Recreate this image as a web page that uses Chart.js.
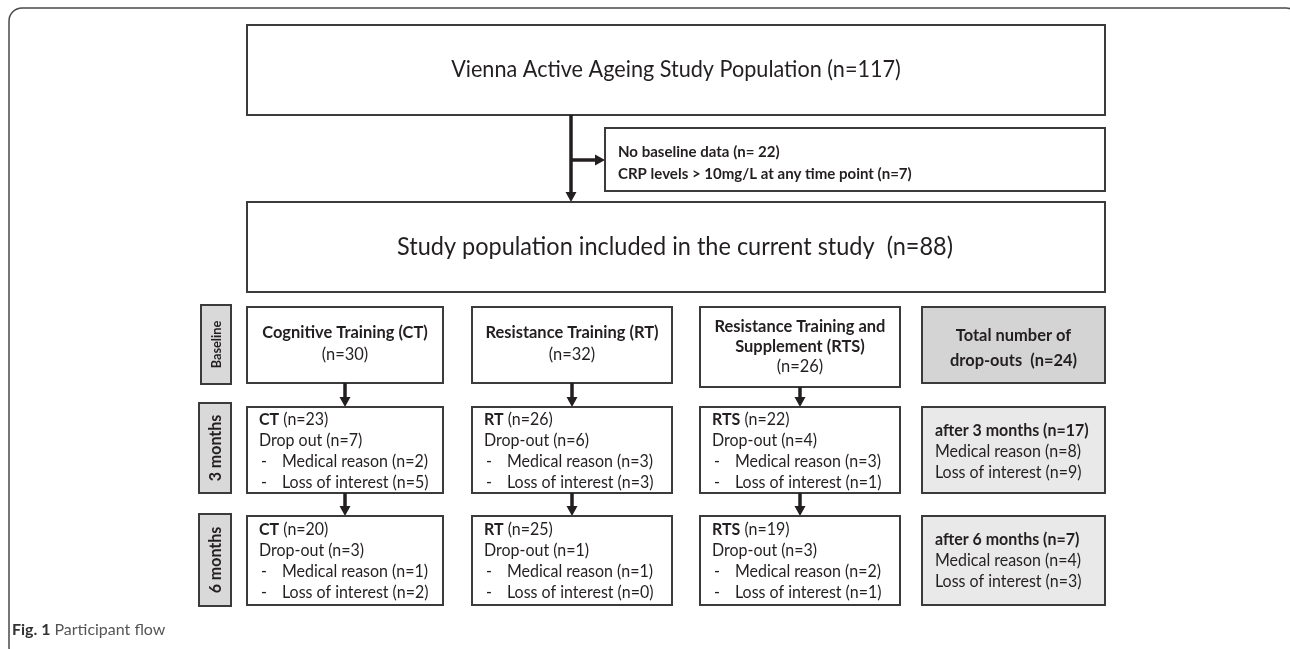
<!DOCTYPE html>
<html>
<head>
<meta charset="utf-8">
<script src="https://cdn.jsdelivr.net/npm/chart.js@4.4.1/dist/chart.umd.min.js"></script>
<style>
  html, body { margin: 0; padding: 0; background: #fff; }
  #wrap { width: 1290px; height: 649px; }
</style>
</head>
<body>
<div id="wrap"><canvas id="flow" width="1290" height="649"></canvas></div>
<script>
// ============================
// DATA
// ============================
const studyTotal = 117;
const excludedN = [22, 7];          // no baseline data, CRP > 10mg/L
const includedN = 88;
const stages = ["Baseline", "3 months", "6 months"];
const groupNames = [["Cognitive Training (CT)"], ["Resistance Training (RT)"], ["Resistance Training and", "Supplement (RTS)"]];
const groupAbbr = ["CT", "RT", "RTS"];
const baselineN = [30, 32, 26];
const month3N = [23, 26, 22];
const dropout3 = [7, 6, 4];
const medical3 = [2, 3, 3];
const loss3 = [5, 3, 1];
const month6N = [20, 25, 19];
const dropout6 = [3, 1, 3];
const medical6 = [1, 1, 2];
const loss6 = [2, 0, 1];
const dropWord3 = ["Drop out", "Drop-out", "Drop-out"];

const sum = a => a.reduce((s, v) => s + v, 0);

// ============================
// DRAW HELPERS
// ============================
const INK = "#231f20";
const FONT = 'Lato, "Open Sans", sans-serif';
const SQUEEZE = 0.94;   // Calibri is a bit narrower than Lato

function setFont(ctx, size, bold) {
    ctx.font = (bold ? "bold " : "") + size + "px " + FONT;
}

// draw a line made of [text, bold] parts, returns width used
function runs(ctx, parts, x, y, size, align) {
    let widths = parts.map(p => { setFont(ctx, size, p[1]); return ctx.measureText(p[0]).width * SQUEEZE; });
    let total = sum(widths);
    let cx = align === "center" ? x - total / 2 : x;
    ctx.textAlign = "left";
    ctx.textBaseline = "middle";
    ctx.fillStyle = INK;
    parts.forEach((p, i) => {
        setFont(ctx, size, p[1]);
        ctx.fillText(p[0], cx, y, widths[i]);
        cx += widths[i];
    });
    return total;
}

function box(ctx, x1, y1, x2, y2, fill) {
    if (fill) {
        ctx.fillStyle = fill;
        ctx.fillRect(x1, y1, x2 - x1, y2 - y1);
    }
    ctx.strokeStyle = "#3b3b3b";
    ctx.lineWidth = 2;
    ctx.strokeRect(x1, y1, x2 - x1, y2 - y1);
}

function arrow(ctx, x1, y1, x2, y2) {
    const head = 10, half = 5.5;
    const ang = Math.atan2(y2 - y1, x2 - x1);
    const bx = x2 - head * Math.cos(ang), by = y2 - head * Math.sin(ang);
    ctx.strokeStyle = INK;
    ctx.fillStyle = INK;
    ctx.lineWidth = 3.5;
    ctx.beginPath();
    ctx.moveTo(x1, y1);
    ctx.lineTo(bx, by);
    ctx.stroke();
    ctx.beginPath();
    ctx.moveTo(x2, y2);
    ctx.lineTo(bx + half * Math.sin(ang), by - half * Math.cos(ang));
    ctx.lineTo(bx - half * Math.sin(ang), by + half * Math.cos(ang));
    ctx.closePath();
    ctx.fill();
}

// ============================
// FLOW DIAGRAM PLUGIN
// ============================
const flowPlugin = {
    id: "flow",
    afterDraw(chart) {
        const ctx = chart.ctx;
        const X = v => chart.scales.x.getPixelForValue(v);
        const Y = v => chart.scales.y.getPixelForValue(v);
        const B = (x1, y1, x2, y2, fill) => box(ctx, X(x1), Y(y1), X(x2), Y(y2), fill);
        const A = (x1, y1, x2, y2) => arrow(ctx, X(x1), Y(y1), X(x2), Y(y2));
        const T = (parts, x, y, size, align) => runs(ctx, parts, X(x), Y(y), size, align);

        ctx.save();

        // outer frame
        ctx.strokeStyle = "#4a4a4a";
        ctx.lineWidth = 1.5;
        ctx.beginPath();
        ctx.roundRect(X(9), Y(8), X(1299) - X(9), Y(660) - Y(8), 13);
        ctx.stroke();

        // top part
        B(247, 25, 1105, 115);
        T([["Vienna Active Ageing Study Population (n=" + studyTotal + ")", false]], 676, 70, 23, "center");

        B(605, 128, 1105, 191);
        T([["No baseline data (n= " + excludedN[0] + ")", true]], 618, 152, 16);
        T([["CRP levels > 10mg/L at any time point (n=" + excludedN[1] + ")", true]], 618, 174, 16);

        A(571, 115, 571, 202);
        A(571, 160, 605, 160);

        B(247, 202, 1105, 292);
        T([["Study population included in the current study  (n=" + includedN + ")", false]], 675, 247, 25, "center");

        // stage labels (rotated)
        const stageBox = [[201, 305, 231, 384, 13.5], [199, 403, 231, 493, 17], [199, 514, 231, 606, 17]];
        stages.forEach((s, i) => {
            const b = stageBox[i];
            B(b[0], b[1], b[2], b[3], "#d9d9d9");
            ctx.save();
            ctx.translate((X(b[0]) + X(b[2])) / 2, (Y(b[1]) + Y(b[3])) / 2);
            ctx.rotate(-Math.PI / 2);
            runs(ctx, [[s, true]], 0, 1, b[4], "center");
            ctx.restore();
        });

        // group columns
        const cols = [[247, 443], [472, 672], [700, 900]];
        const baseBottom = [383, 383, 387];
        const m3 = [407, 493], m6 = [516, 605];
        const hs = 17.5, fs = 17;

        cols.forEach((c, g) => {
            const cx = (c[0] + c[1]) / 2;
            // baseline box
            B(c[0], 307, c[1], baseBottom[g]);
            const names = groupNames[g];
            if (names.length === 1) {
                T([[names[0], true]], cx, 332, hs, "center");
                T([["(n=" + baselineN[g] + ")", false]], cx, 354, hs, "center");
            } else {
                T([[names[0], true]], cx, 326, hs, "center");
                T([[names[1], true]], cx, 346, hs, "center");
                T([["(n=" + baselineN[g] + ")", false]], cx, 366, hs, "center");
            }
            A(cx, baseBottom[g], cx, m3[0]);

            // 3 months
            B(c[0], m3[0], c[1], m3[1]);
            let lx = c[0] + 12, ix = c[0] + 35;
            T([[groupAbbr[g], true], [" (n=" + month3N[g] + ")", false]], lx, 420, fs);
            T([[dropWord3[g] + " (n=" + dropout3[g] + ")", false]], lx, 441, fs);
            T([["-", false]], lx + 2, 462, fs);
            T([["Medical reason (n=" + medical3[g] + ")", false]], ix, 462, fs);
            T([["-", false]], lx + 2, 483, fs);
            T([["Loss of interest (n=" + loss3[g] + ")", false]], ix, 483, fs);
            A(cx, m3[1], cx, m6[0]);

            // 6 months
            B(c[0], m6[0], c[1], m6[1]);
            T([[groupAbbr[g], true], [" (n=" + month6N[g] + ")", false]], lx, 530, fs);
            T([["Drop-out (n=" + dropout6[g] + ")", false]], lx, 551, fs);
            T([["-", false]], lx + 2, 572, fs);
            T([["Medical reason (n=" + medical6[g] + ")", false]], ix, 572, fs);
            T([["-", false]], lx + 2, 593, fs);
            T([["Loss of interest (n=" + loss6[g] + ")", false]], ix, 593, fs);
        });

        // totals column
        const tx = [922, 1105];
        const tcx = (tx[0] + tx[1]) / 2;
        B(tx[0], 307, tx[1], 383, "#d4d4d4");
        T([["Total number of", true]], tcx, 335, 17.5, "center");
        T([["drop-outs  (n=" + (sum(dropout3) + sum(dropout6)) + ")", true]], tcx, 360, 17.5, "center");

        B(tx[0], m3[0], tx[1], m3[1], "#e9e9e9");
        T([["after 3 months (n=" + sum(dropout3) + ")", true]], tx[0] + 13, 431, fs);
        T([["Medical reason (n=" + sum(medical3) + ")", false]], tx[0] + 13, 452, fs);
        T([["Loss of interest (n=" + sum(loss3) + ")", false]], tx[0] + 13, 473, fs);

        B(tx[0], m6[0], tx[1], m6[1], "#e9e9e9");
        T([["after 6 months (n=" + sum(dropout6) + ")", true]], tx[0] + 13, 540, fs);
        T([["Medical reason (n=" + sum(medical6) + ")", false]], tx[0] + 13, 561, fs);
        T([["Loss of interest (n=" + sum(loss6) + ")", false]], tx[0] + 13, 582, fs);

        // caption
        ctx.textAlign = "left";
        ctx.textBaseline = "middle";
        setFont(ctx, 16, true);
        ctx.fillStyle = "#333";
        ctx.fillText("Fig. 1", X(12), Y(630));
        const fw = ctx.measureText("Fig. 1 ").width;
        setFont(ctx, 16, false);
        ctx.fillStyle = "#555";
        ctx.fillText("Participant flow", X(12) + fw, Y(630));

        ctx.restore();
    }
};

// ============================
// CHART
// ============================
new Chart(document.getElementById("flow"), {
    type: "scatter",
    data: { datasets: [{ data: [], pointRadius: 0 }] },
    options: {
        responsive: false,
        animation: false,
        devicePixelRatio: 1,
        layout: { padding: 0 },
        plugins: {
            legend: { display: false },
            tooltip: { enabled: false }
        },
        scales: {
            x: { type: "linear", min: 0, max: 1290, display: false },
            y: { type: "linear", min: 0, max: 649, reverse: true, display: false }
        }
    },
    plugins: [flowPlugin]
});
</script>
</body>
</html>
